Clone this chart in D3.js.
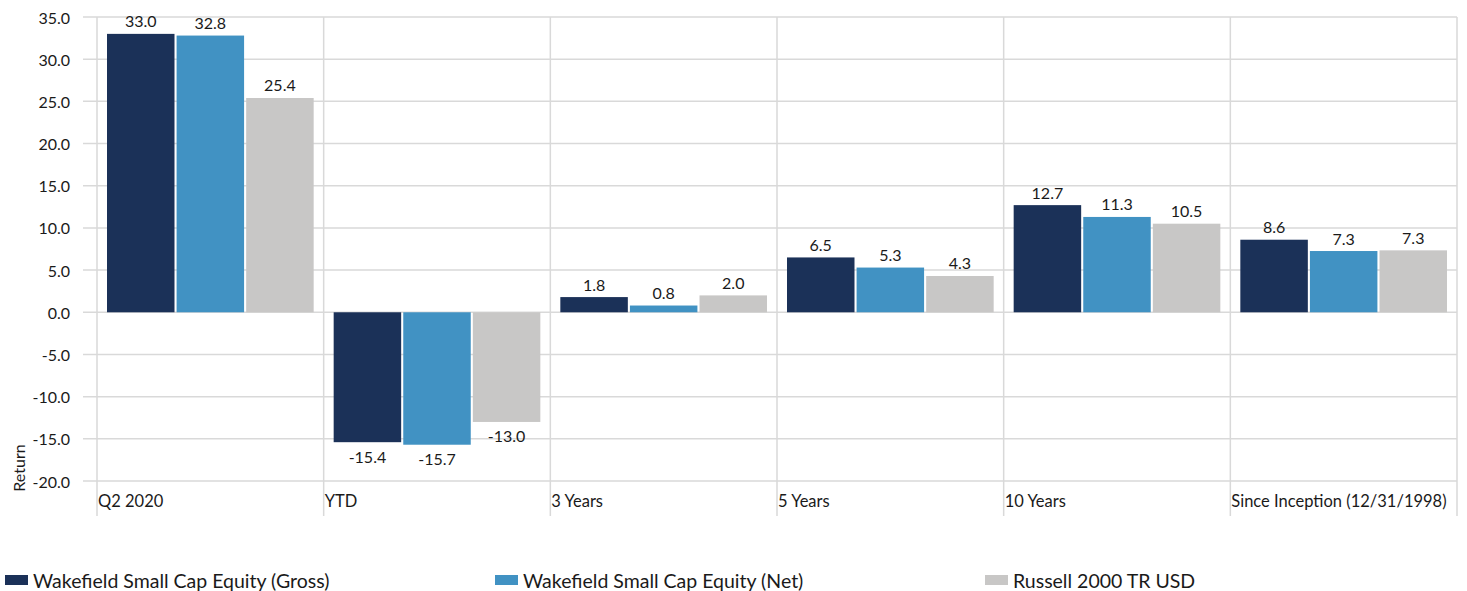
<html>

<head>
    <meta charset="utf-8" />
    <title>Returns</title>
    <script src="https://d3js.org/d3.v7.min.js"></script>
    <style>
        body {
            margin: 0;
            font-family: Lato, "Open Sans", sans-serif;
        }

        text {
            fill: #1a1a1a;
        }
    </style>
</head>

<body>
    <svg id="chart" width="1467" height="591"></svg>
    <script>
        const categories = ["Q2 2020", "YTD", "3 Years", "5 Years", "10 Years", "Since Inception (12/31/1998)"]
        const seriesNames = ["Wakefield Small Cap Equity (Gross)", "Wakefield Small Cap Equity (Net)", "Russell 2000 TR USD"]
        const grossValues = [33.0, -15.4, 1.8, 6.5, 12.7, 8.6]
        const netValues = [32.8, -15.7, 0.8, 5.3, 11.3, 7.26]
        const russellValues = [25.4, -13.0, 2.0, 4.3, 10.5, 7.34]
        const yTicks = [35, 30, 25, 20, 15, 10, 5, 0, -5, -10, -15, -20]
        const colors = ["#1b3158", "#4192c3", "#c8c7c6"]

        const svg = d3.select("svg#chart")
        const margin = { left: 97, right: 10, top: 17, bottom: 110 }
        const width = +svg.attr("width")
        const height = +svg.attr("height")

        const x = d3.scaleBand().domain(categories).range([margin.left, width - margin.right])
        const y = d3.scaleLinear().domain([-20, 35]).range([height - margin.bottom, margin.top])
        const xSub = d3.scaleBand().domain(seriesNames)
            .range([10, x.bandwidth() - 10]).paddingInner(0.03)
        const color = d3.scaleOrdinal().domain(seriesNames).range(colors)
        const fmt = v => v.toFixed(1)

        const allValues = [grossValues, netValues, russellValues]
        const rows = []
        categories.forEach((c, i) => {
            seriesNames.forEach((s, j) => {
                rows.push({ cat: c, series: s, value: allValues[j][i] })
            })
        })

        // horizontal grid + tick labels
        const grid = svg.append("g").attr("class", "grids")
        grid.selectAll("line.hgrid").data(yTicks)
            .join("line").attr("class", "hgrid")
            .attr("x1", margin.left - 14).attr("x2", width - margin.right)
            .attr("y1", d => y(d)).attr("y2", d => y(d))
            .attr("stroke", "#d9d9d9").attr("stroke-width", 1.5)

        // vertical category dividers
        const edges = categories.map(c => x(c)).concat([x.range()[1]])
        grid.selectAll("line.vgrid").data(edges)
            .join("line").attr("class", "vgrid")
            .attr("x1", d => d).attr("x2", d => d)
            .attr("y1", margin.top).attr("y2", 516)
            .attr("stroke", "#d9d9d9").attr("stroke-width", 1.5)

        svg.append("g").selectAll("text").data(yTicks)
            .join("text")
            .attr("x", 70).attr("y", d => y(d))
            .attr("text-anchor", "end").attr("dominant-baseline", "central")
            .attr("font-size", 16)
            .text(d => fmt(d))

        svg.append("text")
            .attr("transform", `translate(18, 468) rotate(-90)`)
            .attr("text-anchor", "middle").attr("dominant-baseline", "central")
            .attr("font-size", 16)
            .text("Return")

        // category labels
        svg.append("g").selectAll("text").data(categories)
            .join("text")
            .attr("x", d => x(d) + 1).attr("y", 501)
            .attr("dominant-baseline", "central")
            .attr("font-size", 16.5)
            .text(d => d)

        // bars
        const bars = svg.append("g")
        bars.selectAll("rect").data(rows)
            .join("rect")
            .attr("x", d => x(d.cat) + xSub(d.series))
            .attr("width", xSub.bandwidth())
            .attr("y", d => y(Math.max(0, d.value)))
            .attr("height", d => Math.abs(y(d.value) - y(0)))
            .attr("fill", d => color(d.series))

        bars.selectAll("text").data(rows)
            .join("text")
            .attr("x", d => x(d.cat) + xSub(d.series) + xSub.bandwidth() / 2)
            .attr("y", d => d.value >= 0 ? y(d.value) - 13 : y(d.value) + 14)
            .attr("text-anchor", "middle").attr("dominant-baseline", "central")
            .attr("font-size", 16)
            .text(d => fmt(d.value))

        // legend
        const legendX = [5, 495, 985]
        const legend = svg.append("g").selectAll("g").data(seriesNames)
            .join("g")
            .attr("transform", (d, i) => `translate(${legendX[i]}, 580)`)
        legend.append("rect")
            .attr("x", 0).attr("y", -5).attr("width", 23).attr("height", 10)
            .attr("fill", d => color(d))
        legend.append("text")
            .attr("x", 28).attr("y", 0)
            .attr("dominant-baseline", "central")
            .attr("font-size", 19.5)
            .text(d => d)
    </script>
</body>

</html>
